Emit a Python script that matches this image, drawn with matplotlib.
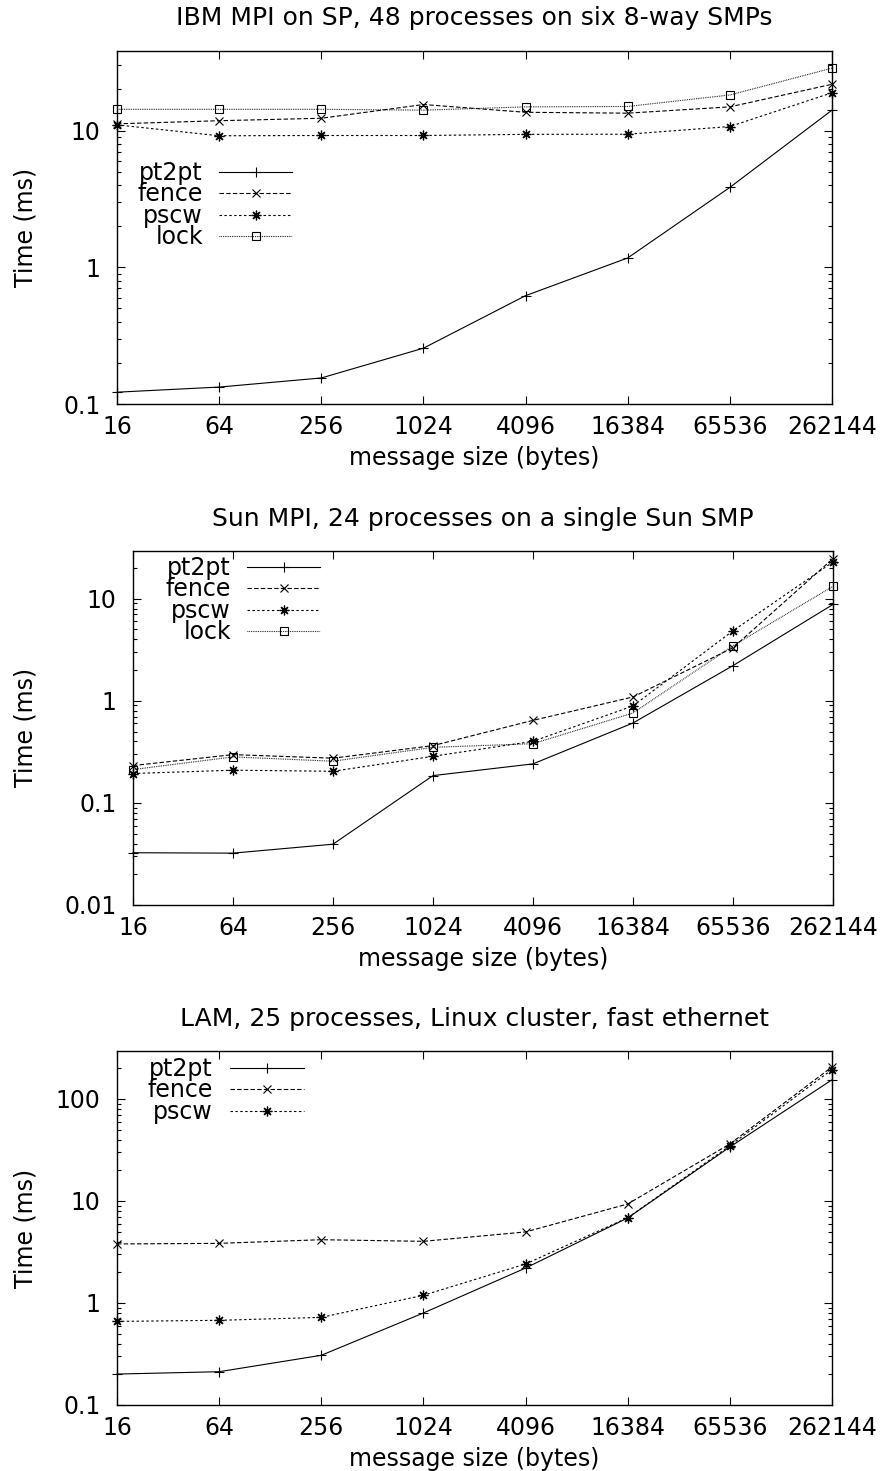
import matplotlib
matplotlib.use("Agg")
import matplotlib.pyplot as plt
from matplotlib.ticker import FixedLocator, FixedFormatter, LogLocator, NullFormatter

plt.rcParams['font.family'] = ['DejaVu Sans']

# ---------------- data ----------------
sizes = [16, 64, 256, 1024, 4096, 16384, 65536, 262144]
size_labels = ["16", "64", "256", "1024", "4096", "16384", "65536", "262144"]
series_names = ["pt2pt", "fence", "pscw", "lock"]

titles = ["IBM MPI on SP, 48 processes on six 8-way SMPs",
          "Sun MPI, 24 processes on a single Sun SMP",
          "LAM, 25 processes, Linux cluster, fast ethernet"]

ibm_pt2pt = [0.122, 0.133, 0.155, 0.256, 0.62, 1.17, 3.84, 14.1]
ibm_fence = [11.2, 11.8, 12.3, 15.5, 13.6, 13.4, 14.9, 21.8]
ibm_pscw = [11.0, 9.16, 9.2, 9.2, 9.38, 9.4, 10.7, 18.9]
ibm_lock = [14.3, 14.3, 14.3, 14.1, 14.9, 15.0, 18.2, 28.6]

sun_pt2pt = [0.0325, 0.0322, 0.0394, 0.185, 0.241, 0.606, 2.21, 8.78]
sun_fence = [0.232, 0.297, 0.274, 0.364, 0.643, 1.09, 3.31, 24.7]
sun_pscw = [0.194, 0.209, 0.204, 0.286, 0.401, 0.89, 4.85, 22.9]
sun_lock = [0.212, 0.282, 0.256, 0.35, 0.38, 0.759, 3.46, 13.2]

lam_pt2pt = [0.201, 0.212, 0.307, 0.798, 2.2, 6.81, 33.8, 154]
lam_fence = [3.79, 3.84, 4.17, 4.02, 4.97, 9.34, 36.2, 206]
lam_pscw = [0.66, 0.676, 0.723, 1.19, 2.41, 6.85, 34.8, 194]

ibm_yticks = [0.1, 1, 10]
ibm_ylabels = ["0.1", "1", "10"]
sun_yticks = [0.01, 0.1, 1, 10]
sun_ylabels = ["0.01", "0.1", "1", "10"]
lam_yticks = [0.1, 1, 10, 100]
lam_ylabels = ["0.1", "1", "10", "100"]

# ---------------- style ----------------
W, H = 883, 1471
DPI = 100
FS = 17
FS_TITLE = 18
styles = {
    "pt2pt": dict(ls='-', marker='+', ms=7, mew=0.8),
    "fence": dict(ls=(0, (4.0, 2.0)), marker='x', ms=5.5, mew=0.8),
    "pscw": dict(ls=(0, (2.2, 2.2)), marker=(8, 2, 0), ms=7, mew=0.9),
    "lock": dict(ls=(0, (0.7, 0.9)), marker='s', ms=6, mew=0.8, mfc='none'),
}
LW = 0.8

fig = plt.figure(figsize=(W / DPI, H / DPI), dpi=DPI)

# axes rectangles in pixels: left, right, top, bottom
boxes = [(117, 832, 50.5, 404), (133, 833, 550.7, 905), (117, 832, 1051, 1405)]
ylims = [(0.1, 38.5), (0.01, 29.5), (0.1, 295)]
# legend: text right x, line x0, x1, first row y
legends = [(203, 219, 292, 172), (231, 247, 320, 567), (213, 230, 304, 1068)]
row_pitch = 21.3

panels = [
    (titles[0], [ibm_pt2pt, ibm_fence, ibm_pscw, ibm_lock], ibm_yticks, ibm_ylabels),
    (titles[1], [sun_pt2pt, sun_fence, sun_pscw, sun_lock], sun_yticks, sun_ylabels),
    (titles[2], [lam_pt2pt, lam_fence, lam_pscw], lam_yticks, lam_ylabels),
]

for (title, series, yt, yl), (l, r, t, b), ylim, (lx, x0, x1, ly) in zip(panels, boxes, ylims, legends):
    ax = fig.add_axes([l / W, 1 - b / H, (r - l) / W, (b - t) / H])
    aw, ah = r - l, b - t

    def fx(px):
        return (px - l) / aw

    def fy(py):
        return (b - py) / ah

    for name, vals in zip(series_names, series):
        st = styles[name]
        ax.plot(sizes, vals, color='black', lw=LW, ls=st['ls'], marker=st['marker'],
                ms=st['ms'], mew=st['mew'], mfc=st.get('mfc', 'black'), mec='black',
                clip_on=False)

    ax.set_xscale('log', base=2)
    ax.set_yscale('log')
    ax.set_xlim(sizes[0], sizes[-1])
    ax.set_ylim(*ylim)

    ax.xaxis.set_major_locator(FixedLocator(sizes))
    ax.xaxis.set_major_formatter(FixedFormatter(size_labels))
    ax.xaxis.set_minor_locator(FixedLocator([]))
    ax.yaxis.set_major_locator(FixedLocator(yt))
    ax.yaxis.set_major_formatter(FixedFormatter(yl))
    ax.yaxis.set_minor_locator(LogLocator(base=10, subs=[2, 3, 4, 5, 6, 7, 8, 9], numticks=20))
    ax.yaxis.set_minor_formatter(NullFormatter())

    ax.tick_params(which='both', direction='in', top=True, right=True, width=0.8,
                   labelsize=FS, colors='black')
    ax.tick_params(which='major', length=5.5)
    ax.tick_params(which='minor', length=3)
    ax.tick_params(axis='x', pad=8)
    ax.tick_params(axis='y', pad=12)
    for sp in ax.spines.values():
        sp.set_linewidth(1.0)

    ax.set_xlabel("message size (bytes)", fontsize=FS)
    ax.xaxis.set_label_coords(0.5, fy(b + 54))
    ax.xaxis.label.set_verticalalignment('center')
    ax.set_ylabel("Time (ms)", fontsize=FS)
    ax.yaxis.set_label_coords(fx(25), 0.5)
    ax.yaxis.label.set_verticalalignment('center')

    ax.text(0.5, fy(t - 32), title, transform=ax.transAxes, ha='center', va='center',
            fontsize=FS_TITLE)

    # key (gnuplot style: label, then sample)
    for i, name in enumerate(series_names[:len(series)]):
        st = styles[name]
        yy = ly + i * row_pitch
        ax.text(fx(lx), fy(yy + 8), name, transform=ax.transAxes, ha='right',
                va='baseline', fontsize=FS)
        ax.plot([fx(x0), fx(x1)], [fy(yy), fy(yy)], transform=ax.transAxes,
                color='black', lw=LW, ls=st['ls'])
        ax.plot([fx((x0 + x1) / 2)], [fy(yy)], transform=ax.transAxes, color='black',
                marker=st['marker'], ms=st['ms'], mew=st['mew'],
                mfc=st.get('mfc', 'black'), mec='black', ls='none')

fig.savefig("out.png", dpi=DPI)
